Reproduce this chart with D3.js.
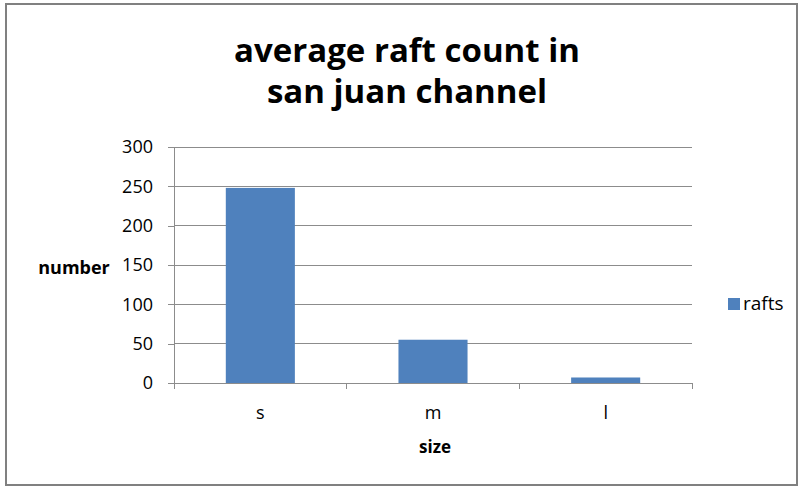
<!DOCTYPE html>
<html>
<head>
<meta charset="utf-8">
<script src="https://cdn.jsdelivr.net/npm/d3@7"></script>
<style>
  html, body { margin: 0; padding: 0; background: #fff; }
  svg { display: block; }
  text { font-family: "Open Sans", Lato, "Liberation Sans", sans-serif; fill: #000; }
</style>
</head>
<body>
<svg id="chart" width="799" height="487"></svg>
<script>
// Chart data
const categories = ["s", "m", "l"];
const rafts = [248, 55, 7];
const yTicks = [0, 50, 100, 150, 200, 250, 300];
const seriesName = "rafts";
const titleLines = ["average raft count in", "san juan channel"];
const xTitle = "size";
const yTitle = "number";

const svg = d3.select("#chart");

// Outer frame
svg.append("rect")
  .attr("x", 6).attr("y", 4).attr("width", 791).attr("height", 481)
  .attr("fill", "#fff").attr("stroke", "#808080").attr("stroke-width", 2);

const plot = { left: 174, right: 692, top: 147, bottom: 383 };

const x = d3.scaleBand().domain(categories).range([plot.left, plot.right]).paddingInner(0.6).paddingOuter(0.3);
const y = d3.scaleLinear().domain([0, 300]).range([plot.bottom, plot.top]);

// Horizontal gridlines
svg.append("g")
  .selectAll("line")
  .data(yTicks.filter(d => d > 0))
  .join("line")
  .attr("x1", plot.left).attr("x2", plot.right)
  .attr("y1", d => y(d)).attr("y2", d => y(d))
  .attr("stroke", "#8c8c8c").attr("stroke-width", 1)
  .attr("shape-rendering", "crispEdges");

// Y axis
const yAxis = svg.append("g")
  .attr("transform", `translate(${plot.left},0)`)
  .call(d3.axisLeft(y).tickValues(yTicks).tickSize(6).tickPadding(15));
yAxis.select(".domain").attr("stroke", "#8c8c8c").attr("shape-rendering", "crispEdges");
yAxis.selectAll(".tick line").attr("stroke", "#8c8c8c").attr("shape-rendering", "crispEdges");
yAxis.selectAll(".tick text")
  .attr("font-size", 18).attr("fill", "#222")
  .style("font-family", '"Open Sans", sans-serif');

// Bars
svg.append("g")
  .selectAll("rect")
  .data(categories.map((c, i) => ({ c, v: rafts[i] })))
  .join("rect")
  .attr("x", d => x(d.c))
  .attr("width", x.bandwidth())
  .attr("y", d => y(d.v))
  .attr("height", d => y(0) - y(d.v))
  .attr("fill", "#4f81bd");

// X axis with ticks between categories
const xb = d3.scaleLinear().domain([0, categories.length]).range([plot.left, plot.right]);
const xAxisG = svg.append("g").attr("transform", `translate(0,${plot.bottom})`);
xAxisG.append("line")
  .attr("x1", plot.left).attr("x2", plot.right).attr("y1", 0).attr("y2", 0)
  .attr("stroke", "#8c8c8c").attr("shape-rendering", "crispEdges");
xAxisG.selectAll("line.tk")
  .data(d3.range(categories.length + 1))
  .join("line").attr("class", "tk")
  .attr("x1", d => xb(d)).attr("x2", d => xb(d))
  .attr("y1", 0).attr("y2", 6)
  .attr("stroke", "#8c8c8c").attr("shape-rendering", "crispEdges");
xAxisG.selectAll("text")
  .data(categories)
  .join("text")
  .attr("x", (d, i) => xb(i + 0.5))
  .attr("y", 36)
  .attr("text-anchor", "middle")
  .attr("font-size", 18).attr("fill", "#222")
  .text(d => d);

// Title
svg.append("text")
  .attr("x", 407).attr("y", 62)
  .attr("text-anchor", "middle")
  .attr("font-size", 33).attr("font-weight", "bold")
  .selectAll("tspan")
  .data(titleLines)
  .join("tspan")
  .attr("x", 407)
  .attr("dy", (d, i) => i === 0 ? 0 : 41)
  .text(d => d);

// Axis titles
svg.append("text")
  .attr("x", 435).attr("y", 453)
  .attr("text-anchor", "middle")
  .attr("font-size", 17).attr("font-weight", "bold")
  .text(xTitle);

svg.append("text")
  .attr("x", 74).attr("y", 274)
  .attr("text-anchor", "middle")
  .attr("font-size", 18).attr("font-weight", "bold")
  .text(yTitle);

// Legend
const legend = svg.append("g").attr("transform", "translate(728,298)");
legend.append("rect").attr("width", 12).attr("height", 12).attr("fill", "#4f81bd");
legend.append("text")
  .attr("x", 15).attr("y", 12)
  .attr("font-size", 19).attr("fill", "#222")
  .text(seriesName);
</script>
</body>
</html>
